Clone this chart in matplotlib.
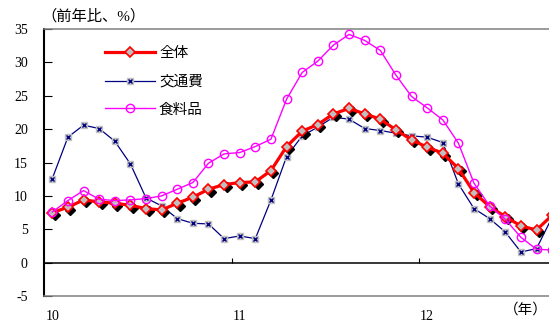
import matplotlib
matplotlib.use("Agg")
import matplotlib.pyplot as plt
from matplotlib.transforms import offset_copy
from matplotlib.lines import Line2D
from matplotlib.legend_handler import HandlerTuple
import numpy as np

plt.rcParams['font.family'] = ['Liberation Serif', 'Noto Sans CJK JP']
plt.rcParams['axes.unicode_minus'] = False

# 2010年1月から月次、前年比(%)
zentai = [7.5, 8.3, 9.4, 9.1, 8.9, 8.6, 8.1, 7.9, 8.9, 9.8, 11.0, 11.7,
          12.0, 12.1, 13.8, 17.4, 19.7, 20.7, 22.3, 23.1, 22.3, 21.5, 19.9, 18.4,
          17.3, 16.4, 14.1, 10.5, 8.4, 6.9, 5.5, 4.9, 7.1]
kotsu = [12.6, 18.8, 20.6, 20.1, 18.2, 14.8, 9.7, 8.5, 6.6, 5.9, 5.8, 3.6,
         4.0, 3.6, 9.4, 15.9, 19.0, 20.3, 21.8, 21.5, 20.1, 19.8, 19.4, 19.0,
         18.8, 18.0, 11.8, 8.1, 6.6, 4.6, 1.6, 2.1, 6.8]
shokuryo = [7.6, 9.3, 10.8, 9.5, 9.3, 9.4, 9.6, 10.0, 11.0, 12.0, 14.9, 16.3,
            16.5, 17.4, 18.5, 24.5, 28.5, 30.2, 32.6, 34.2, 33.3, 31.8, 28.1, 24.9,
            23.2, 21.4, 17.9, 11.9, 8.5, 6.5, 3.8, 2.0, 1.9]
series_names = ['全体', '交通費', '食料品']
year_labels = ['10', '11', '12']
year_start = [0, 12, 24]

x = np.arange(len(zentai))

fig = plt.figure(figsize=(5.49, 3.22), dpi=100)
ax = fig.add_axes([0.081, 0.0807, 0.919, 0.829])

ax.axhline(0, color='black', lw=1.1, zorder=1)
ax.vlines([s - 0.5 for s in year_start[1:]], 0, 0.75, color='black', lw=0.8, zorder=1)

# 交通費
ax.plot(x, kotsu, color='#000080', lw=0.9, marker='s', ms=4.5,
        mfc='#c0c0c0', mec='#c0c0c0', zorder=2)
ax.plot(x, kotsu, ls='none', marker='x', ms=2.5, mew=1.0, color='#000080', zorder=2.1)

# 全体 (影付き)
shadow = offset_copy(ax.transData, fig=fig, x=2.5, y=-2.5, units='dots')
ax.plot(x, zentai, ls='none', marker='D', ms=5.2, color='black', transform=shadow, zorder=3)
ax.plot(x, zentai, color='#ff0000', lw=2.3, marker='D', ms=5.2, mfc='#c0c0c0',
        mec='#ff0000', mew=1.2, zorder=3.1)

# 食料品
ax.plot(x, shokuryo, color='#ff00ff', lw=1.0, marker='o', ms=6, mfc='none',
        mec='#ff00ff', mew=1.0, zorder=4)

ax.set_xlim(-0.5, 31.8)
ax.set_ylim(-5, 35)
ax.set_yticks(range(-5, 36, 5))
ax.tick_params(axis='y', direction='in', length=6, width=0.8, pad=12, labelsize=10)
ax.set_xticks(year_start)
ax.set_xticklabels(year_labels)
ax.tick_params(axis='x', length=0, pad=10, labelsize=10)

for side in ['top', 'bottom']:
    ax.spines[side].set_color('#808080')
    ax.spines[side].set_linewidth(1.1)
ax.spines['left'].set_linewidth(1.5)
ax.spines['right'].set_visible(False)

h_zentai = Line2D([], [], color='#ff0000', lw=2.3, marker='D', ms=5.2,
                  mfc='#c0c0c0', mec='#ff0000', mew=1.2)
h_kotsu = (Line2D([], [], color='#000080', lw=0.9, marker='s', ms=4.5,
                  mfc='#c0c0c0', mec='#c0c0c0'),
           Line2D([], [], ls='none', marker='x', ms=2.5, mew=1.0, color='#000080'))
h_shoku = Line2D([], [], color='#ff00ff', lw=1.0, marker='o', ms=6,
                 mfc='none', mec='#ff00ff', mew=1.0)
ax.legend([h_zentai, h_kotsu, h_shoku], series_names,
          handler_map={tuple: HandlerTuple(ndivide=1, pad=0)},
          loc='upper left', bbox_to_anchor=(0.12, 0.932), frameon=False,
          borderaxespad=0, borderpad=0, handlelength=3.4, handletextpad=0.3,
          labelspacing=1.0, fontsize=10.5)

fig.text(0.075, 1 - 16 / 322, '（前年比、%）', fontsize=11, va='center', ha='left')
fig.text(0.997, 1 - 310 / 322, '（年）', fontsize=10.5, va='center', ha='right')

fig.savefig('out.png', dpi=100)
